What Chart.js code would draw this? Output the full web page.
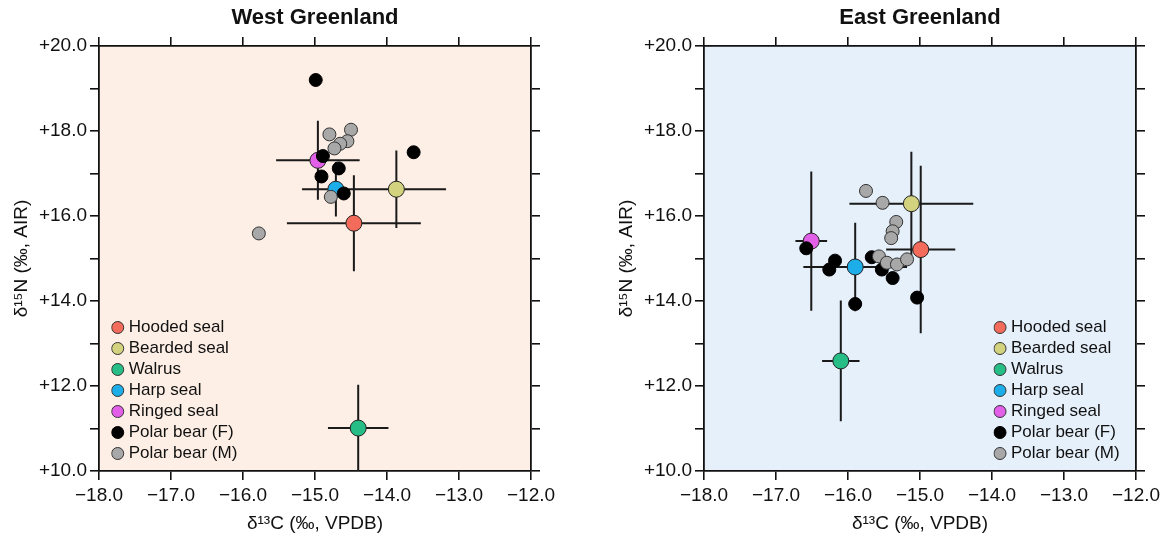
<!DOCTYPE html>
<html>
<head>
<meta charset="utf-8">
<script src="https://cdn.jsdelivr.net/npm/chart.js@4.4.0/dist/chart.umd.min.js"></script>
<style>
  html, body { margin: 0; padding: 0; background: #fff; }
  #wrap { position: relative; width: 1165px; height: 538px; }
  .panel { position: absolute; top: 0; width: 560px; height: 538px; }
</style>
</head>
<body>
<div id="wrap">
  <div class="panel" style="left:0"><canvas id="west" width="560" height="538"></canvas></div>
  <div class="panel" style="left:605px"><canvas id="east" width="560" height="538"></canvas></div>
</div>
<script>
// species means with 1 SD
const species = ["Hooded seal", "Bearded seal", "Walrus", "Harp seal", "Ringed seal"];
const speciesColors = ["#f26b5b", "#d3d27f", "#27bd87", "#1daeea", "#e25fe8"];
const bearLabels = ["Polar bear (F)", "Polar bear (M)"];
const bearColors = ["#000000", "#a8a8a8"];

const xTicks = [-18, -17, -16, -15, -14, -13, -12];
const yTicks = [10, 11, 12, 13, 14, 15, 16, 17, 18, 19, 20];

// West Greenland
const westMeanC = [-14.46, -13.87, -14.40, -14.71, -14.96];
const westMeanN = [15.83, 16.63, 11.01, 16.63, 17.31];
const westSdC = [0.93, 0.69, 0.42, 0.47, 0.58];
const westSdN = [1.13, 0.91, 1.02, 0.64, 0.93];
const westBearF_C = [-14.99, -14.89, -14.67, -14.91, -14.60, -13.63];
const westBearF_N = [19.20, 17.41, 17.12, 16.93, 16.53, 17.50];
const westBearM_C = [-14.80, -14.50, -14.55, -14.65, -14.73, -14.78, -15.78];
const westBearM_N = [17.92, 18.03, 17.76, 17.70, 17.59, 16.45, 15.59];

// East Greenland
const eastMeanC = [-14.99, -15.12, -16.10, -15.90, -16.51];
const eastMeanN = [15.21, 16.29, 12.59, 14.80, 15.41];
const eastSdC = [0.48, 0.86, 0.26, 0.72, 0.22];
const eastSdN = [1.97, 1.22, 1.42, 1.04, 1.64];
const eastBearF_C = [-16.58, -16.18, -16.26, -15.67, -15.53, -15.38, -15.90, -15.04];
const eastBearF_N = [15.24, 14.95, 14.74, 15.03, 14.74, 14.54, 13.93, 14.08];
const eastBearM_C = [-15.75, -15.52, -15.33, -15.38, -15.40, -15.57, -15.46, -15.32, -15.18];
const eastBearM_N = [16.59, 16.31, 15.86, 15.64, 15.48, 15.05, 14.90, 14.86, 14.98];

Chart.defaults.font.family = "'Liberation Sans', Arial, sans-serif";
Chart.defaults.color = "#111";

const INK = "#111";

// paint the plot area
const plotBg = {
  id: "plotBg",
  beforeDraw(chart, args, opts) {
    const a = chart.chartArea, ctx = chart.ctx;
    ctx.save();
    ctx.fillStyle = opts.color;
    ctx.fillRect(a.left, a.top, a.right - a.left, a.bottom - a.top);
    ctx.restore();
  }
};

// put the legend inside the plot area
const legendPlace = {
  id: "legendPlace",
  afterLayout(chart, args, opts) {
    const lg = chart.legend;
    if (!lg) return;
    const a = chart.chartArea;
    lg.left = a.left + opts.left;
    lg.right = lg.left + lg.width + 10;
    lg.top = a.top;
    lg.bottom = a.bottom - opts.bottom;
  }
};

function pts(xs, ys) {
  return xs.map((x, i) => ({ x: x, y: ys[i] }));
}

function errorBars(mc, mn, sc, sn) {
  const out = [];
  mc.forEach((x, i) => {
    const y = mn[i];
    out.push({ x: x - sc[i], y: y }, { x: x + sc[i], y: y }, { x: x, y: null });
    out.push({ x: x, y: y - sn[i] }, { x: x, y: y + sn[i] }, { x: x, y: null });
  });
  return out;
}

function fmtC(v) {
  return (v < 0 ? "\u2212" : "") + Math.abs(v).toFixed(1);
}

function makeChart(id, title, bg, d, legendLeft, blackOnTop) {
  const bearF = {
    label: bearLabels[0], data: pts(d.fC, d.fN),
    pointRadius: 6.5, backgroundColor: bearColors[0], borderColor: "#000", borderWidth: 1
  };
  const bearM = {
    label: bearLabels[1], data: pts(d.mC, d.mN),
    pointRadius: 6.5, backgroundColor: bearColors[1], borderColor: "#333", borderWidth: 1
  };
  const means = species.map((s, i) => ({
    label: s, data: [{ x: d.mc[i], y: d.mn[i] }],
    pointRadius: 8, backgroundColor: speciesColors[i], borderColor: "#222", borderWidth: 1
  }));
  const bars = {
    label: "sd", data: errorBars(d.mc, d.mn, d.sc, d.sn),
    showLine: true, spanGaps: false, pointRadius: 0, borderColor: "#1a1a1a", borderWidth: 2
  };
  const bears = blackOnTop ? [bearF, bearM] : [bearM, bearF];
  const datasets = bears.concat(means, [bars]);

  const axisBorder = { display: true, color: INK, width: 1.8 };
  const tickGrid = { drawOnChartArea: false, drawTicks: true, tickLength: 9, color: INK, lineWidth: 1.6 };

  return new Chart(document.getElementById(id), {
    type: "scatter",
    data: { datasets: datasets },
    plugins: [plotBg, legendPlace],
    options: {
      responsive: false,
      animation: false,
      events: [],
      layout: { padding: 0 },
      plugins: {
        plotBg: { color: bg },
        legendPlace: { left: legendLeft, bottom: 5 },
        tooltip: { enabled: false },
        legend: {
          position: "chartArea",
          align: "end",
          labels: {
            usePointStyle: true,
            boxWidth: 5,
            boxHeight: 8.5,
            padding: 4,
            color: INK,
            font: { size: 17 },
            generateLabels: () => {
              const names = species.concat(bearLabels);
              const cols = speciesColors.concat(bearColors);
              return names.map((n, i) => ({
                text: n, fillStyle: cols[i], strokeStyle: i === 5 ? "#000" : "#333",
                lineWidth: 1, pointStyle: "circle", hidden: false, fontColor: INK,
                datasetIndex: datasets.findIndex(ds => ds.label === n)
              }));
            }
          }
        }
      },
      scales: {
        x: {
          type: "linear", position: "bottom", min: xTicks[0], max: xTicks[xTicks.length - 1],
          border: axisBorder, grid: tickGrid,
          afterBuildTicks: s => { s.ticks = xTicks.map(v => ({ value: v })); },
          ticks: { color: INK, font: { size: 19 }, padding: 4, maxRotation: 0, autoSkip: false, callback: v => fmtC(v) },
          title: { display: true, text: "\u03b4\u00b9\u00b3C (\u2030, VPDB)", color: INK, font: { size: 19 }, padding: { top: 0, bottom: 2.5 } },
          afterFit: s => { s.height = 67; }
        },
        x2: {
          type: "linear", position: "top", min: xTicks[0], max: xTicks[xTicks.length - 1],
          border: axisBorder, grid: tickGrid,
          afterBuildTicks: s => { s.ticks = xTicks.map(v => ({ value: v })); },
          ticks: { display: false },
          title: { display: true, text: title, color: INK, font: { size: 22, weight: "bold" }, padding: { top: 5, bottom: 0 } },
          afterFit: s => { s.height = 46; }
        },
        y: {
          type: "linear", position: "left", min: yTicks[0], max: yTicks[yTicks.length - 1],
          border: axisBorder, grid: tickGrid,
          afterBuildTicks: s => { s.ticks = yTicks.map(v => ({ value: v })); },
          ticks: { color: INK, font: { size: 19 }, padding: 3, autoSkip: false,
            callback: v => (v % 2 === 0 ? "+" + v.toFixed(1) : "") },
          title: { display: true, text: "\u03b4\u00b9\u2075N (\u2030, AIR)", color: INK, font: { size: 19 }, padding: { top: 10.5, bottom: 0 } },
          afterFit: s => { s.width = 99; }
        },
        y2: {
          type: "linear", position: "right", min: yTicks[0], max: yTicks[yTicks.length - 1],
          border: axisBorder, grid: tickGrid,
          afterBuildTicks: s => { s.ticks = yTicks.map(v => ({ value: v })); },
          ticks: { display: false },
          afterFit: s => { s.width = 29; }
        }
      }
    }
  });
}

makeChart("west", "West Greenland", "#fdefe5", {
  mc: westMeanC, mn: westMeanN, sc: westSdC, sn: westSdN,
  fC: westBearF_C, fN: westBearF_N, mC: westBearM_C, mN: westBearM_N
}, 12.2, true);

makeChart("east", "East Greenland", "#e6f0fb", {
  mc: eastMeanC, mn: eastMeanN, sc: eastSdC, sn: eastSdN,
  fC: eastBearF_C, fN: eastBearF_N, mC: eastBearM_C, mN: eastBearM_N
}, 289.5, false);
</script>
</body>
</html>
